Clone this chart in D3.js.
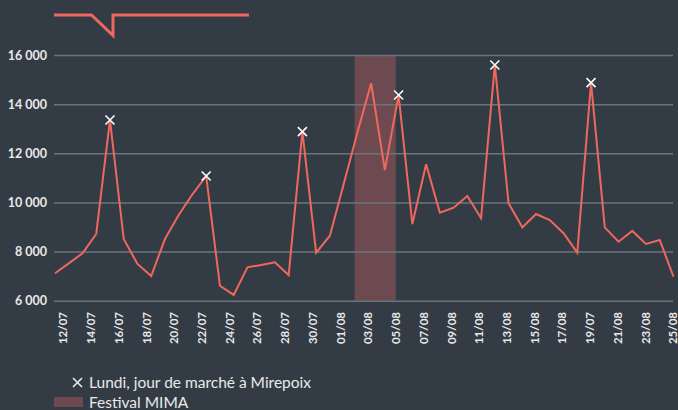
<!DOCTYPE html>
<html>
<head>
<meta charset="utf-8">
<script src="https://cdn.jsdelivr.net/npm/d3@7"></script>
<style>
  html, body { margin: 0; padding: 0; background: #333c45; }
  svg { display: block; font-family: Lato, "Open Sans", sans-serif; }
</style>
</head>
<body>
<script>
// Daily visitors, Mirepoix, 12/07 -> 26/08
var firstDay = new Date(2018, 6, 12);
var lastDay = new Date(2018, 7, 26);
var visitors = [
	7115, 7520, 7930, 8715, 13355, 8510, 7495, 7005, 8510, 9490,
	10330, 11075, 6610, 6235, 7360, 7455, 7565, 7045, 12880, 7955,
	8645, 10740, 12840, 14850, 11320, 14370, 9120, 11550, 9585, 9785,
	10260, 9355, 15595, 9965, 8985, 9530, 9285, 8745, 7955, 14875,
	8985, 8400, 8840, 8310, 8470, 6975
];
// Mondays (market day)
var marketDays = ['2018-07-16', '2018-07-23', '2018-07-30', '2018-08-06', '2018-08-13', '2018-08-20'];
// Festival MIMA
var festival = [new Date(2018, 7, 2, 19), new Date(2018, 7, 5, 19)];
var yTicks = [6000, 8000, 10000, 12000, 14000, 16000];
var xLabels = ['12/07', '14/07', '16/07', '18/07', '20/07', '22/07', '24/07', '26/07', '28/07', '30/07',
	'01/08', '03/08', '05/08', '07/08', '09/08', '11/08', '13/08', '15/08', '17/08', '19/07',
	'21/08', '23/08', '25/08'];

var width = 678, height = 410;
var lineColor = '#f0675d';
var gridColor = '#6b747d';
var textColor = '#e9e9e9';
var bandColor = '#6c4a50';

var days = d3.timeDay.range(firstDay, d3.timeDay.offset(lastDay, 1));
var data = days.map(function(d, i) { return {date: d, value: visitors[i]}; });
var fmt = d3.timeFormat('%Y-%m-%d');

var svg = d3.select('body').append('svg')
	.attr('width', width)
	.attr('height', height);

var x = d3.scaleTime().domain([firstDay, lastDay]).range([55, 673.5]);
var y = d3.scaleLinear().domain([6000, 16000]).range([300.7, 55]);
// the tick labels sit on their own evenly spaced scale
var xl = d3.scalePoint().domain(xLabels).range([63.3, 673.3]);

// festival band
svg.append('rect')
	.attr('x', x(festival[0]))
	.attr('width', x(festival[1]) - x(festival[0]))
	.attr('y', y(16000))
	.attr('height', y(6000) - y(16000))
	.attr('fill', bandColor);

// grid + y labels
var yAxis = svg.append('g')
	.attr('transform', 'translate(54,0)')
	.call(d3.axisLeft(y).tickValues(yTicks).tickSize(-619).tickPadding(7)
		.tickFormat(function(d) { return d3.format(',')(d).replace(',', ' '); }));
yAxis.select('.domain').remove();
yAxis.selectAll('line').attr('stroke', gridColor).attr('stroke-width', 1.5);
yAxis.selectAll('text')
	.attr('fill', textColor)
	.attr('font-size', 12.5)
	.attr('font-weight', 700)
	.attr('font-family', 'Lato, sans-serif');

// x labels
svg.append('g').selectAll('text')
	.data(xLabels)
	.join('text')
	.attr('transform', function(d) { return 'translate(' + xl(d) + ',312) rotate(-90)'; })
	.attr('dy', '0.35em')
	.attr('text-anchor', 'end')
	.attr('fill', textColor)
	.attr('font-size', 11.5)
	.attr('font-weight', 700)
	.text(function(d) { return d; });

// the line
var line = d3.line()
	.x(function(d) { return x(d.date); })
	.y(function(d) { return y(d.value); });

svg.append('path')
	.datum(data)
	.attr('d', line)
	.attr('fill', 'none')
	.attr('stroke', lineColor)
	.attr('stroke-width', 2)
	.attr('stroke-linejoin', 'miter');

// monday markers
var cross = 'M-4.5,-4.5L4.5,4.5M4.5,-4.5L-4.5,4.5';
svg.append('g').selectAll('path')
	.data(data.filter(function(d) { return marketDays.indexOf(fmt(d.date)) >= 0; }))
	.join('path')
	.attr('transform', function(d) { return 'translate(' + x(d.date) + ',' + y(d.value) + ')'; })
	.attr('d', cross)
	.attr('stroke', '#ffffff')
	.attr('stroke-width', 1.6)
	.attr('fill', 'none');

// odd little line legend at the top
svg.append('path')
	.attr('d', d3.line()([[54, 15], [91.5, 15], [113, 35.5], [113, 15], [249, 15]]))
	.attr('fill', 'none')
	.attr('stroke', lineColor)
	.attr('stroke-width', 3);

// legend at the bottom
var legend = svg.append('g');
legend.append('path')
	.attr('transform', 'translate(77.5,382.5)')
	.attr('d', 'M-4.5,-4.5L4.5,4.5M4.5,-4.5L-4.5,4.5')
	.attr('stroke', textColor)
	.attr('stroke-width', 1.6);
legend.append('text')
	.attr('x', 89)
	.attr('y', 388)
	.attr('fill', textColor)
	.attr('font-size', 15.5)
	.text('Lundi, jour de marché à Mirepoix');
legend.append('rect')
	.attr('x', 54).attr('y', 397)
	.attr('width', 29).attr('height', 10)
	.attr('fill', bandColor);
legend.append('text')
	.attr('x', 89)
	.attr('y', 408)
	.attr('fill', textColor)
	.attr('font-size', 15.5)
	.text('Festival MIMA');
</script>
</body>
</html>
